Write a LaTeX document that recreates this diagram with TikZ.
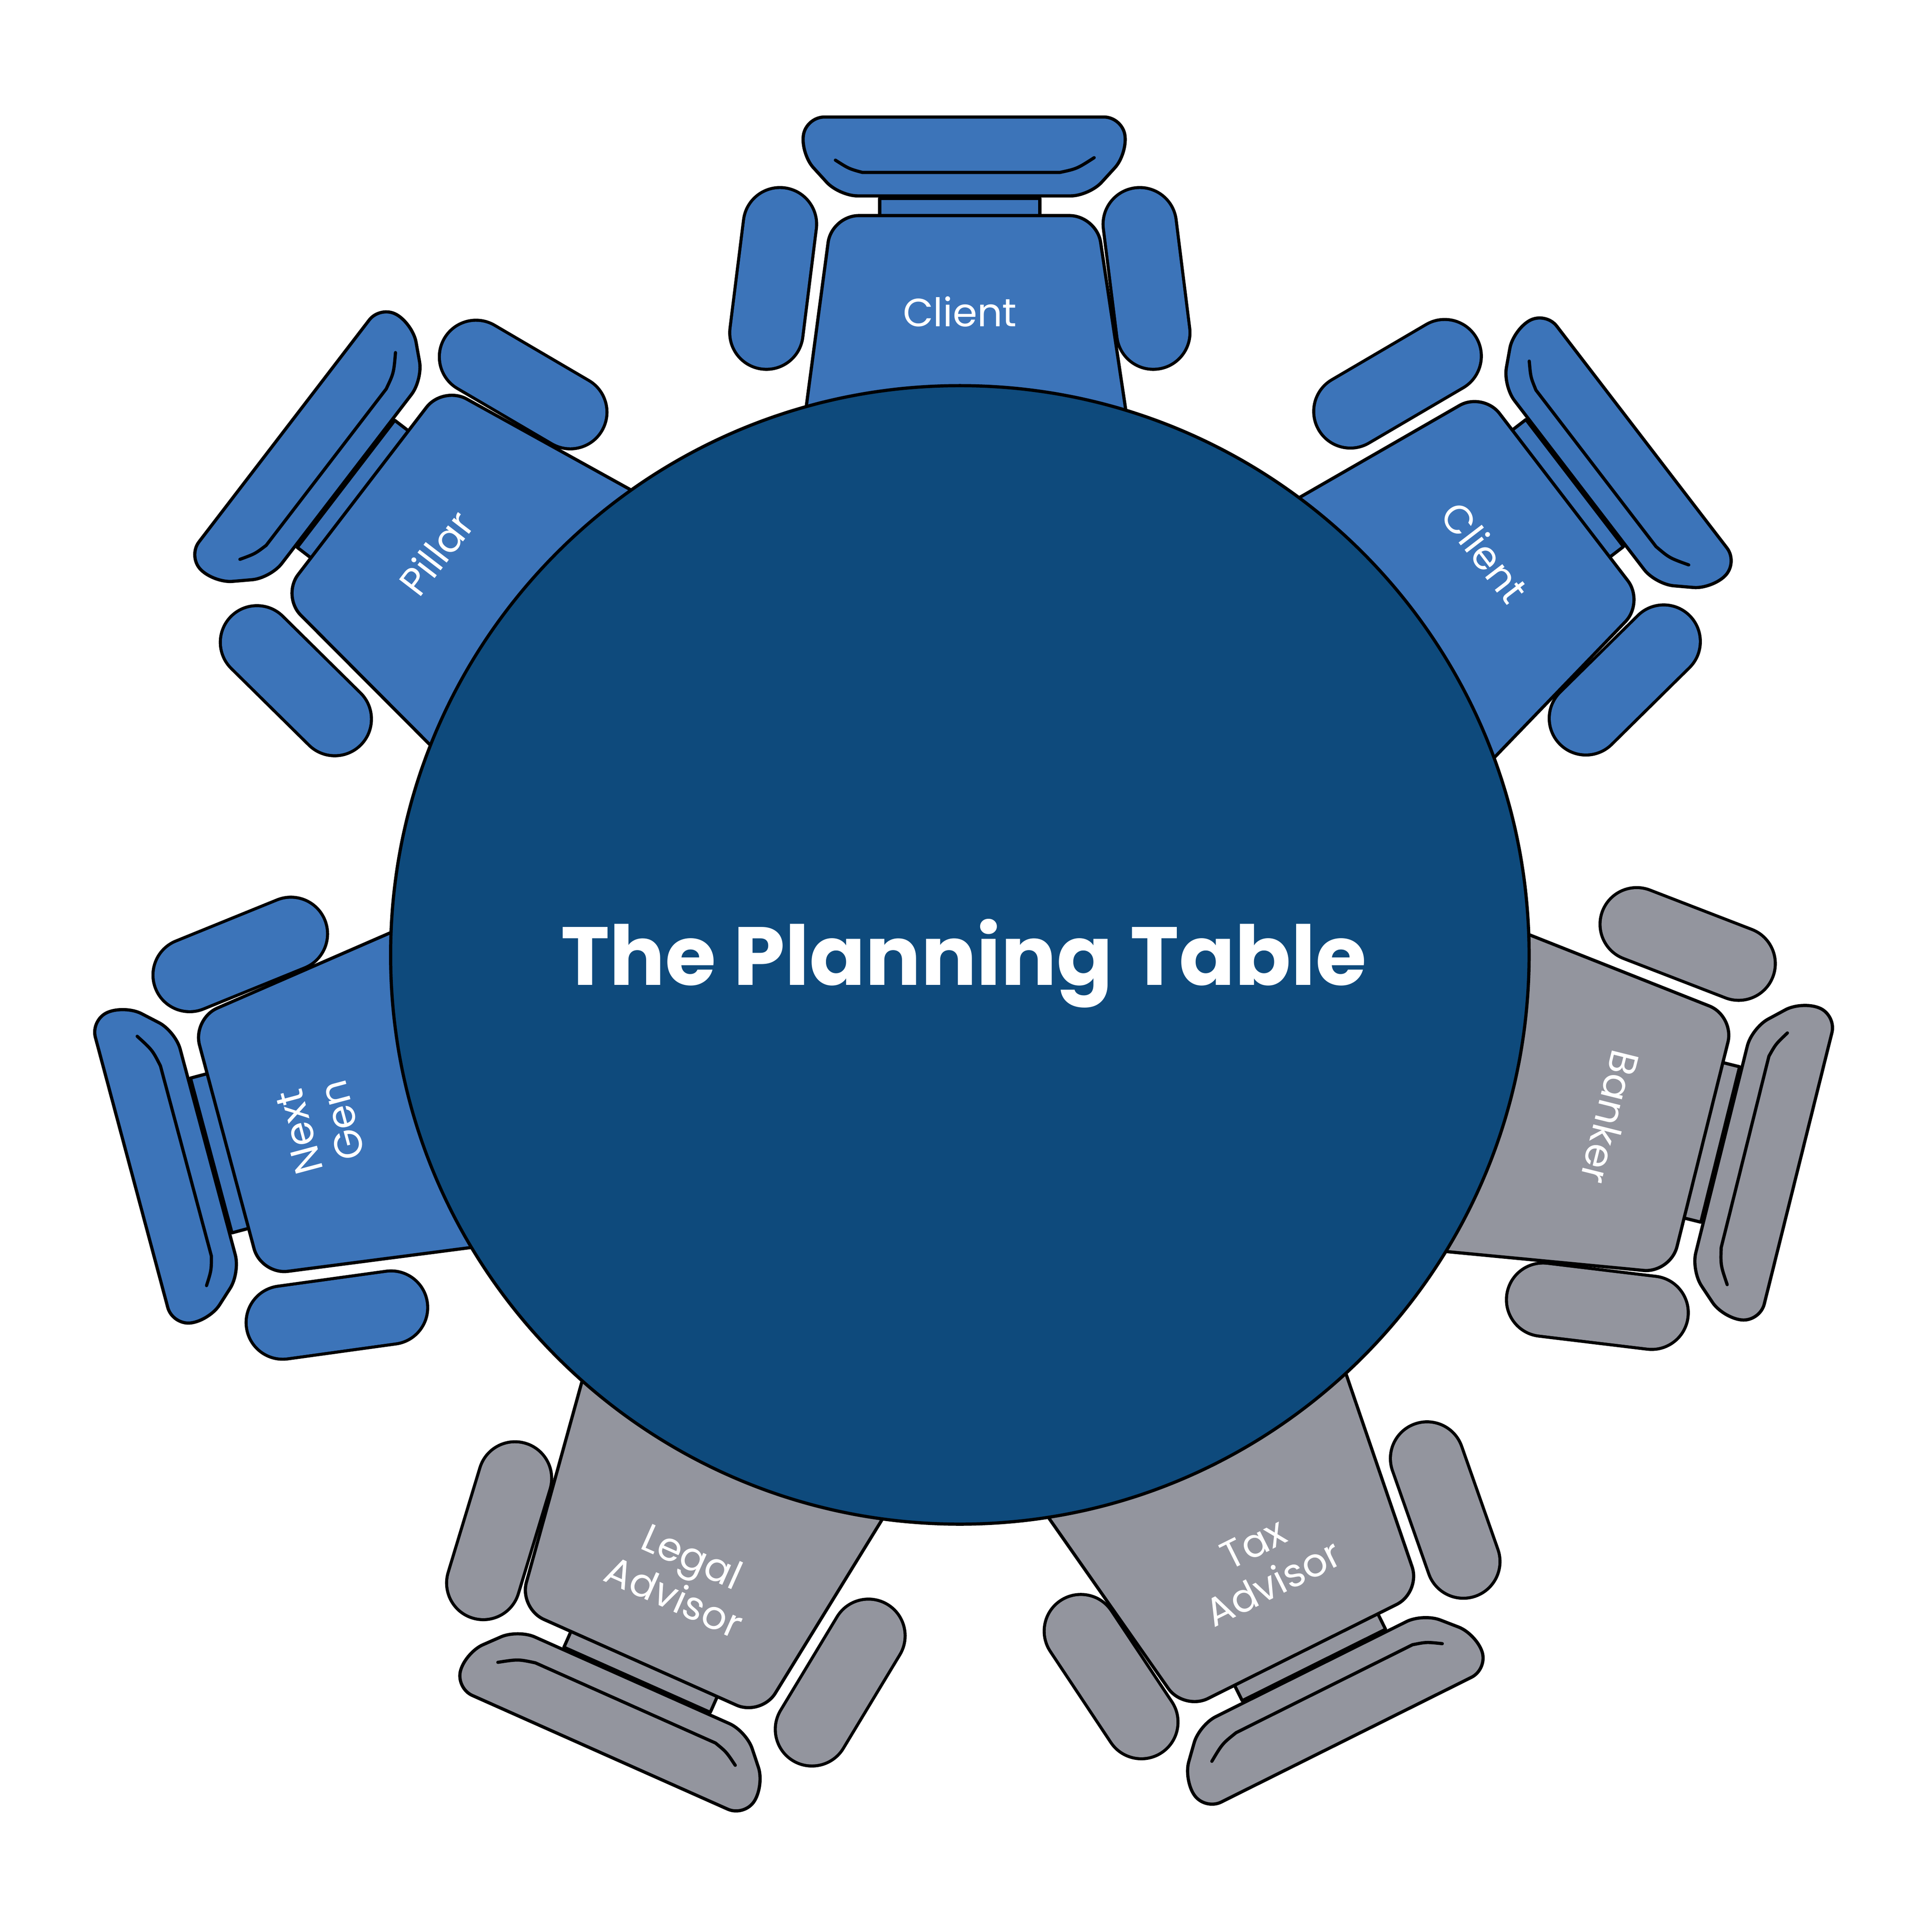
\documentclass[tikz,border=0pt]{standalone}
\usepackage{fontspec}
\setmainfont{Poppins}
\definecolor{cblue}{HTML}{3C74B9}
\definecolor{cgray}{HTML}{93959E}
\definecolor{ctable}{HTML}{0E4A7C}
\tikzset{part/.style={draw=black,line width=2.6pt,line join=round}}
\newcommand{\myarm}[3]{% color, p1, p2
  \draw[line width=62pt,line cap=round,black] #2 -- #3;
  \draw[line width=57pt,line cap=round,#1] #2 -- #3;}
\newcommand{\mychair}[6]{% angle, color, label, extra text rotation, name, radial offset
  \begin{scope}[shift={(779,779)},rotate=#1-90,shift={(0,#6)}]
    \myarm{#2}{(-146,593)}{(-157,505)}
    \myarm{#2}{(146,593)}{(157,505)}
    \draw[part,fill=#2] (-65,598) rectangle (65,614);
    \draw[part,fill=#2,rounded corners=15] (-125,680) -- (132,680) -- (136,650) -- (105,616) -- (-98,616) -- (-129,650) -- cycle;
    \draw[line width=2.6pt,line cap=round] (-101,645) .. controls (-90,638) .. (-79,635) -- (81,635) .. controls (95,638) .. (109,647);
    \draw[part,fill=#2,rounded corners=22] (-136,360) -- (-104,600) -- (111,600) -- (147,360) -- cycle;
    \node[text=white,font=\fontsize{32}{36}\selectfont,align=center,rotate=#1-90+#4] (#5) at (0,522) {#3};
  \end{scope}}
\begin{document}
\begin{tikzpicture}[x=1pt,y=1pt]
\useasboundingbox (0,-14) rectangle (1568,1554);
\mychair{90}{cblue}{Client}{0}{c1}{0}
\mychair{37.5}{cblue}{Client}{0}{c2}{15}
\mychair{142.5}{cblue}{Pillar}{0}{p}{14}
\mychair{195}{cblue}{Next\\Gen}{0}{n}{15}
\mychair{346}{cgray}{Banker}{0}{b}{22}
\mychair{246}{cgray}{Legal\\Advisor}{180}{l}{30}
\mychair{296.5}{cgray}{Tax\\Advisor}{180}{t}{30}
\draw[line width=2.6pt,fill=ctable] (779,779) circle (462);
\node[text=white,font=\fontsize{67}{80}\selectfont\bfseries] (title) at (782,772) {The Planning Table};
\end{tikzpicture}
\end{document}
